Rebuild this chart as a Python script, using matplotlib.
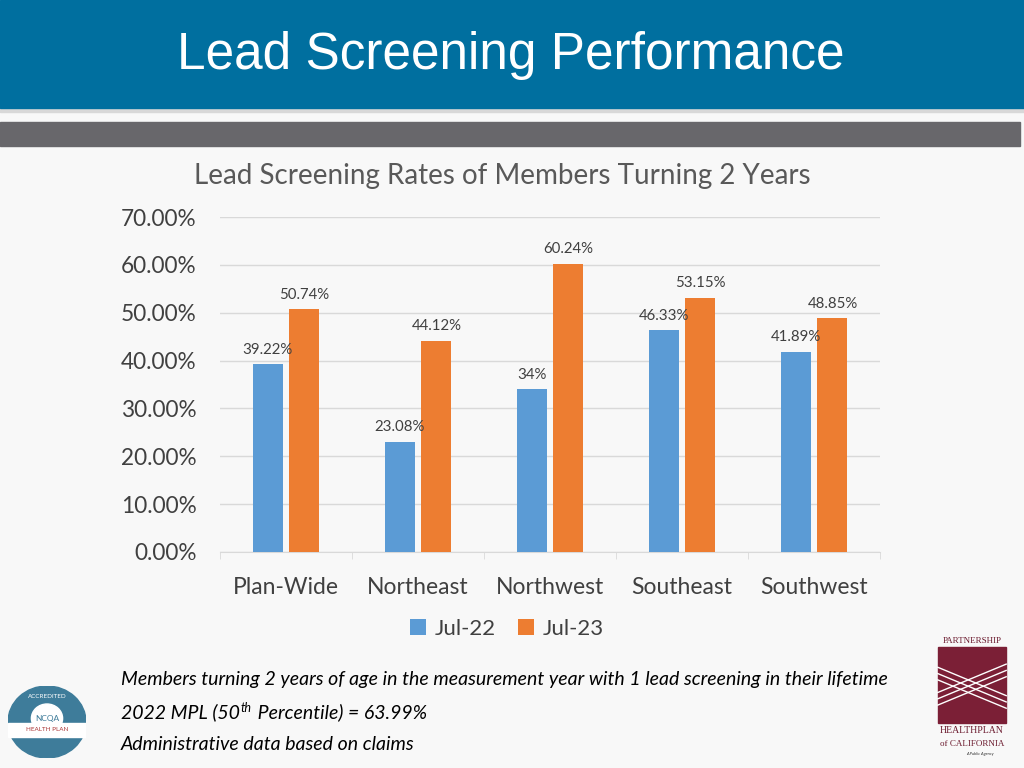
import matplotlib.pyplot as plt
import matplotlib.patches as mpatches
from matplotlib.ticker import FuncFormatter, MultipleLocator
import numpy as np

# chart data
regions = ["Plan-Wide", "Northeast", "Northwest", "Southeast", "Southwest"]
jul22 = [39.22, 23.08, 34, 46.33, 41.89]
jul23 = [50.74, 44.12, 60.24, 53.15, 48.85]
series_names = ["Jul-22", "Jul-23"]

BLUE = "#5B9BD5"
ORANGE = "#ED7D31"
FONT = "Lato"

fig = plt.figure(figsize=(10.24, 7.68), dpi=100)
fig.patch.set_facecolor("#f8f8f8")

# slide header: blue band, shadow and gray bar
fig.patches.append(mpatches.Rectangle((0, 1 - 112 / 768), 1, 4 / 768, transform=fig.transFigure,
                                      color="#d8d8d8", zorder=0))
fig.patches.append(mpatches.Rectangle((0, 1 - 108 / 768), 1, 108 / 768, transform=fig.transFigure,
                                      color="#006F9F", zorder=1))
fig.patches.append(mpatches.Rectangle((0, 1 - 146 / 768), 1020 / 1024, 24 / 768, transform=fig.transFigure,
                                      color="#68676B", zorder=1))
fig.text(511 / 1024, 1 - 56 / 768, "Lead Screening Performance", color="white", fontsize=37,
         family="Liberation Sans", ha="center", va="center")

# chart
ax = fig.add_axes([220 / 1024, 1 - 552 / 768, 660 / 1024, 335 / 768])
ax.set_facecolor("none")
x = np.arange(len(regions))
w = 0.227
off = 0.14
b1 = ax.bar(x - off, jul22, w, color=BLUE, label=series_names[0], zorder=3)
b2 = ax.bar(x + off, jul23, w, color=ORANGE, label=series_names[1], zorder=3)

for bars, vals in [(b1, jul22), (b2, jul23)]:
    for b, v in zip(bars, vals):
        ax.annotate(f"{v:g}%", (b.get_x() + b.get_width() / 2, v), xytext=(0, 5.5),
                    textcoords="offset points", ha="center", va="bottom",
                    fontsize=10.8, color="#404040", family=FONT)

ax.set_xlim(-0.5, 4.5)
ax.set_ylim(0, 70)
ax.yaxis.set_major_locator(MultipleLocator(10))
ax.yaxis.set_major_formatter(FuncFormatter(lambda v, p: f"{v:.2f}%"))
ax.grid(axis="y", color="#d9d9d9", linewidth=1, zorder=0)
ax.set_xticks(x)
ax.set_xticklabels(regions)
ax.set_xticks(np.arange(-0.5, 5, 1), minor=True)
ax.tick_params(axis="x", which="major", length=0, pad=18, labelsize=16.5, labelcolor="#404040")
ax.tick_params(axis="x", which="minor", length=5, color="#d9d9d9")
ax.tick_params(axis="y", length=0, pad=17, labelsize=16.3, labelcolor="#404040")
for lab in ax.get_xticklabels() + ax.get_yticklabels():
    lab.set_family(FONT)
for s in ["top", "right", "left"]:
    ax.spines[s].set_visible(False)
ax.spines["bottom"].set_color("#d9d9d9")

fig.text(502 / 1024, 1 - 176 / 768, "Lead Screening Rates of Members Turning 2 Years",
         fontsize=20, color="#595959", family=FONT, ha="center", va="center")

leg = fig.legend(handles=[b1, b2], loc="center", bbox_to_anchor=(507 / 1024, 1 - 629 / 768),
                 ncol=2, frameon=False, prop={"family": FONT, "size": 16},
                 handlelength=0.7, handleheight=0.7, handletextpad=0.4, columnspacing=1.0)
for t in leg.get_texts():
    t.set_color("#404040")

# footnotes
note_kw = dict(fontsize=14, style="italic", family=FONT, va="baseline", color="black")
fig.text(121 / 1024, 1 - 685 / 768,
         "Members turning 2 years of age in the measurement year with 1 lead screening in their lifetime",
         **note_kw)
fig.canvas.draw()
r = fig.canvas.get_renderer()
t1 = fig.text(121 / 1024, 1 - 718 / 768, "2022 MPL (50", **note_kw)
x1 = t1.get_window_extent(r).x1 / 1024
t2 = fig.text(x1 + 1 / 1024, 1 - 712 / 768, "th", fontsize=9, style="italic", family=FONT,
              va="baseline")
x2 = t2.get_window_extent(r).x1 / 1024
fig.text(x2 + 1 / 1024, 1 - 718 / 768, " Percentile) = 63.99%", **note_kw)
fig.text(121 / 1024, 1 - 750 / 768, "Administrative data based on claims", **note_kw)

# NCQA badge (simplified)
badge = fig.add_axes([8 / 1024, 1 - 758 / 768, 78 / 1024, 72 / 768])
badge.set_xlim(-1, 1)
badge.set_ylim(-1, 1)
badge.axis("off")
badge.add_patch(mpatches.Ellipse((0, 0), 2, 2, color="#3E7C9A"))
badge.add_patch(mpatches.Ellipse((0, 0.1), 0.8, 0.8, color="white"))
badge.add_patch(mpatches.Rectangle((-1, -0.42), 2, 0.4, color="white"))
badge.text(0, 0.1, "NCQA", fontsize=6, ha="center", va="center", color="#3E7C9A", family=FONT)
badge.text(0, -0.22, "HEALTH PLAN", fontsize=4.5, ha="center", va="center", color="#A33", family=FONT)
badge.text(0, 0.72, "ACCREDITED", fontsize=4.5, ha="center", va="center", color="white", family=FONT)

# Partnership logo (simplified)
logo = fig.add_axes([934 / 1024, 1 - 758 / 768, 76 / 1024, 126 / 768])
logo.set_xlim(0, 1)
logo.set_ylim(0, 1)
logo.axis("off")
logo.add_patch(mpatches.Rectangle((0.05, 0.28), 0.9, 0.6, color="#7B1F36"))
t = np.linspace(0.05, 0.95, 50)
for k in range(3):
    logo.plot(t, 0.72 - 0.05 * k - 0.25 * (t - 0.05), color="white", lw=1)
    logo.plot(t, 0.42 + 0.05 * k + 0.25 * (t - 0.05), color="white", lw=1)
logo.text(0.5, 0.93, "PARTNERSHIP", fontsize=6.5, ha="center", va="center", color="#6B1A2E",
          family="Liberation Serif")
logo.text(0.5, 0.22, "HEALTHPLAN", fontsize=7, ha="center", va="center", color="#6B1A2E",
          family="Liberation Serif")
logo.text(0.5, 0.11, "of CALIFORNIA", fontsize=6.5, ha="center", va="center", color="#6B1A2E",
          family="Liberation Serif")
logo.text(0.6, 0.03, "A Public Agency", fontsize=3, ha="center", va="center", color="#333",
          style="italic", family=FONT)

fig.savefig("out.png", dpi=100, facecolor=fig.get_facecolor())
